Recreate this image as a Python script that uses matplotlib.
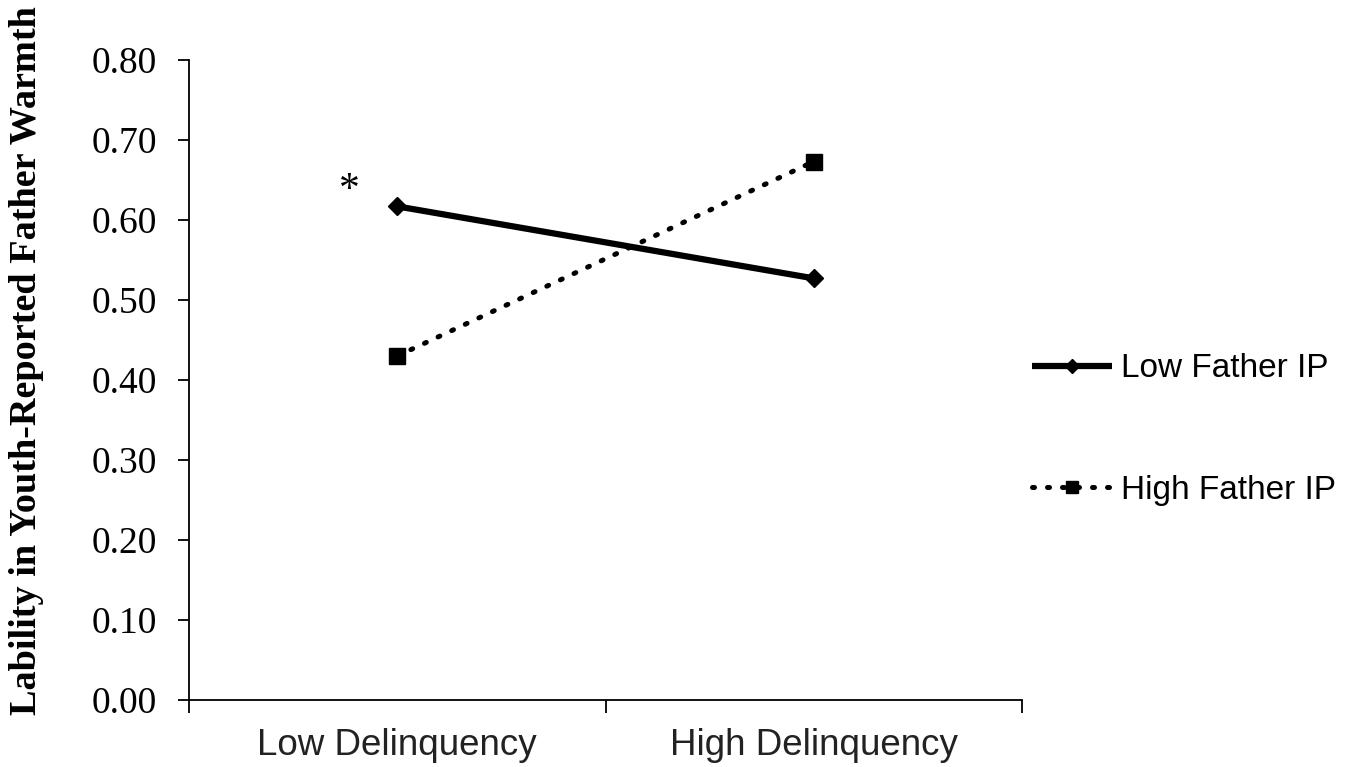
import matplotlib
matplotlib.use('Agg')
import matplotlib.pyplot as plt

categories = ['Low Delinquency', 'High Delinquency']
low_ip = [0.617, 0.527]
high_ip = [0.430, 0.673]
y_ticks = [0.0, 0.1, 0.2, 0.3, 0.4, 0.5, 0.6, 0.7, 0.8]

fig = plt.figure(figsize=(13.62, 7.67), dpi=100)
ax = fig.add_axes([0.1388, 0.0874, 0.6116, 0.8344])

x = list(range(len(categories)))
ax.plot(x, low_ip, color='black', lw=4.5, marker='D', ms=9,
        solid_capstyle='butt', label='Low Father IP')
ax.plot(x, high_ip, color='black', lw=3.6, ls=(0, (0.4, 2.6)),
        dash_capstyle='round', marker='s', ms=11, label='High Father IP')

ax.text(-0.115, 0.636, '*', fontsize=30, family='Liberation Serif',
        ha='center', va='center')

ax.set_xlim(-0.5, 1.5)
ax.set_ylim(0, 0.8)
ax.set_yticks(y_ticks)
ax.set_yticklabels([f'{v:.2f}' for v in y_ticks], family='Liberation Serif', fontsize=27)
ax.set_xticks([-0.5, 0.5, 1.5])
ax.set_xticklabels([])
ax.set_xticks(x, minor=True)
ax.set_xticklabels(categories, minor=True, family='Liberation Sans', fontsize=26.5,
                   color='#222222')
ax.tick_params(axis='x', which='minor', length=0, pad=20)
ax.tick_params(axis='x', which='major', direction='out', length=9, width=1.3)
ax.tick_params(axis='y', direction='out', length=8, width=1.3, pad=15)

for s in ['top', 'right']:
    ax.spines[s].set_visible(False)
for s in ['left', 'bottom']:
    ax.spines[s].set_linewidth(1.3)

ax.set_ylabel('Lability in Youth-Reported Father Warmth', family='Liberation Serif',
              fontweight='bold', fontsize=27.5)
ax.yaxis.set_label_coords(-0.174, 0.53)

fig.legend(loc='center left', bbox_to_anchor=(0.736, 0.44), frameon=False,
           prop={'family': 'Liberation Sans', 'size': 24}, handlelength=2.4,
           handletextpad=0.25, labelspacing=2.72, markerscale=0.8)

fig.savefig('out.png', dpi=100)
